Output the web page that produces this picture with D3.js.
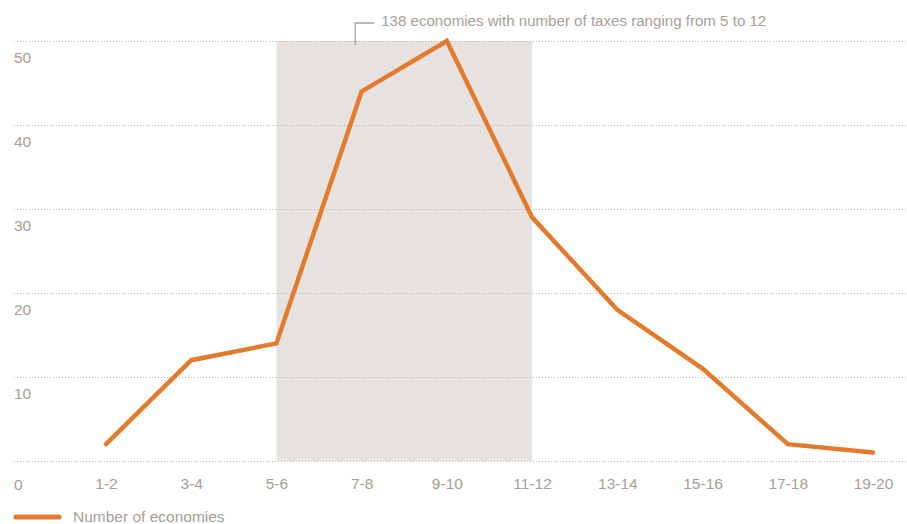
<!DOCTYPE html>
<html>
<head>
<meta charset="utf-8">
<script src="https://cdn.jsdelivr.net/npm/d3@7"></script>
<style>
  html, body { margin: 0; padding: 0; background: #fff; }
  svg { display: block; font-family: "Liberation Sans", Arial, Helvetica, sans-serif; }
</style>
</head>
<body>
<svg id="chart" width="907" height="524"></svg>
<script>
// Number of economies by number of taxes paid
const categories = ["1-2", "3-4", "5-6", "7-8", "9-10", "11-12", "13-14", "15-16", "17-18", "19-20"];
const economies = [2, 12, 14, 44, 50, 29, 18, 11, 2, 1];
const yTicks = [0, 10, 20, 30, 40, 50];
const highlightRange = ["5-6", "11-12"];
const annotationText = "138 economies with number of taxes ranging from 5 to 12";
const legendLabel = "Number of economies";

const textColor = "#a69e99";
const lineColor = "#e37b2f";
const gridColor = "#b9b3af";
const shadeColor = "#e6e2df";

const svg = d3.select("#chart");
const W = 907;

const x = d3.scalePoint().domain(categories).range([106, 873]);
const y = d3.scaleLinear().domain([0, 50]).range([461, 41]);

// highlighted band of categories
svg.append("rect")
  .attr("x", x(highlightRange[0]))
  .attr("y", y(50))
  .attr("width", x(highlightRange[1]) - x(highlightRange[0]))
  .attr("height", y(0) - y(50))
  .attr("fill", shadeColor);

// y axis: dotted gridlines with labels sitting under each line
const yAxis = svg.append("g")
  .attr("transform", "translate(14,0)")
  .call(d3.axisRight(y).tickValues(yTicks).tickSize(W - 14).tickFormat(d3.format("d")));
yAxis.select(".domain").remove();
yAxis.selectAll(".tick line")
  .attr("stroke", gridColor)
  .attr("stroke-width", 1)
  .attr("stroke-dasharray", "1,2");
yAxis.selectAll(".tick text")
  .attr("x", 0)
  .attr("dy", 0)
  .attr("y", d => d === 0 ? 28 : 21)
  .attr("text-anchor", "start")
  .attr("fill", textColor)
  .attr("font-size", "15.5px");

// x axis labels
const xAxis = svg.append("g")
  .attr("transform", `translate(0,${y(0)})`)
  .call(d3.axisBottom(x).tickSize(0));
xAxis.select(".domain").remove();
xAxis.selectAll(".tick text")
  .attr("y", 28)
  .attr("dy", 0)
  .attr("fill", textColor)
  .attr("font-size", "15.5px");

// data line
const line = d3.line()
  .x((d, i) => x(categories[i]))
  .y(d => y(d));
svg.append("path")
  .datum(economies)
  .attr("d", line)
  .attr("fill", "none")
  .attr("stroke", lineColor)
  .attr("stroke-width", 4.5)
  .attr("stroke-linejoin", "miter")
  .attr("stroke-linecap", "round");

// annotation bracket and text above the band
const ax = x("7-8") - 6.5;
svg.append("path")
  .attr("d", `M${ax},45V23H${ax + 19}`)
  .attr("fill", "none")
  .attr("stroke", "#aaa29e")
  .attr("stroke-width", 1.3);
svg.append("text")
  .attr("x", ax + 26)
  .attr("y", 26)
  .attr("fill", textColor)
  .attr("font-size", "15.1px")
  .text(annotationText);

// legend
svg.append("line")
  .attr("x1", 16).attr("x2", 59)
  .attr("y1", 517)
  .attr("y2", 517)
  .attr("stroke", lineColor)
  .attr("stroke-width", 5)
  .attr("stroke-linecap", "round");
svg.append("text")
  .attr("x", 73)
  .attr("y", 521.5)
  .attr("fill", textColor)
  .attr("font-size", "15.5px")
  .text(legendLabel);
</script>
</body>
</html>
